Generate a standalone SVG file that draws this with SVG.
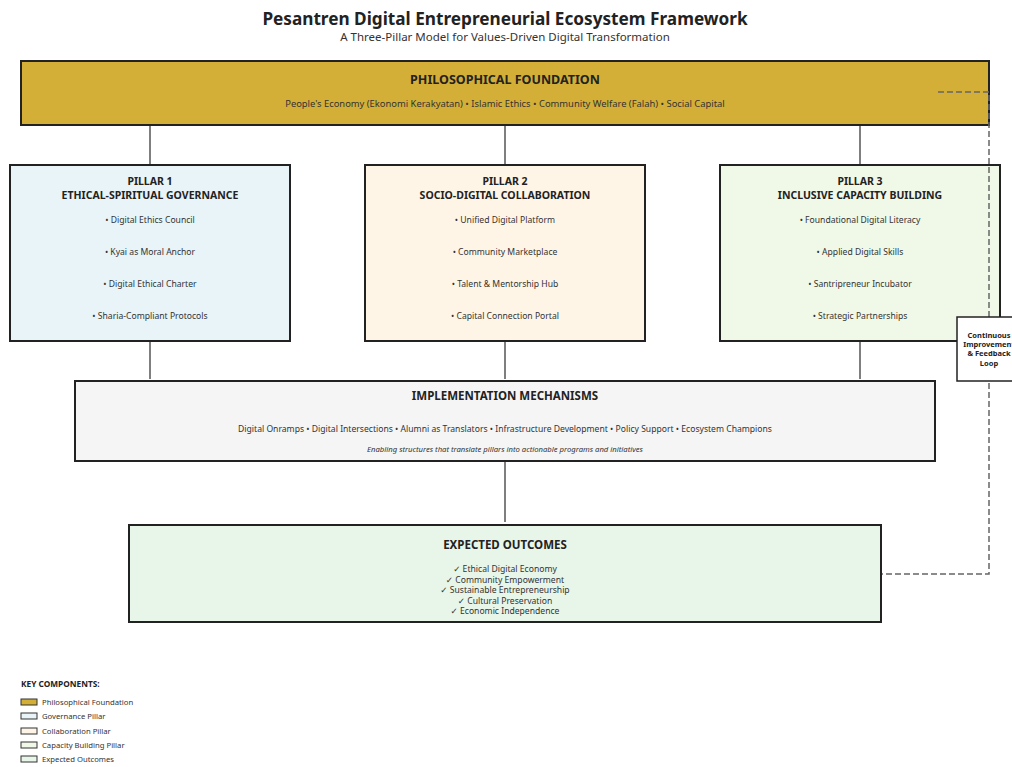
<svg xmlns="http://www.w3.org/2000/svg" width="1012" height="767" viewBox="0 0 1012 767">
<style>
text{font-family:"Noto Sans","Open Sans","DejaVu Sans",sans-serif;fill:#222;text-anchor:middle}
.box{stroke:#222;stroke-width:2}
.t{font-weight:bold}
.h1{font-size:17.2px;font-weight:bold}
.h2{font-size:11.5px;fill:#333}
.ft{font-size:12.5px;font-weight:bold}
.bt{font-size:11.5px;font-weight:bold}
.pt{font-size:10.5px;font-weight:bold}
.it{font-size:8.6px;fill:#333}
.sub{font-size:9.4px;fill:#333}
.sm{font-size:7.7px;fill:#333;font-style:italic}
.conn{stroke:#555;stroke-width:1.5;fill:none}
.dash{stroke:#666;stroke-width:1.5;fill:none;stroke-dasharray:6,3}
.lg{font-size:7.7px;text-anchor:start;fill:#333}
.lh{font-size:8.3px;font-weight:bold;text-anchor:start}
.fb{font-size:7.5px;font-weight:bold}
.sw{stroke:#333;stroke-width:1}
</style>
<rect width="1012" height="767" fill="#fff"/>
<g id="title">
<text x="505" y="25" class="h1">Pesantren Digital Entrepreneurial Ecosystem Framework</text>
<text x="505" y="41" class="h2">A Three-Pillar Model for Values-Driven Digital Transformation</text>
</g>
<g id="connectors">
<line class="conn" x1="150" y1="125" x2="150" y2="165"/>
<line class="conn" x1="505" y1="125" x2="505" y2="165"/>
<line class="conn" x1="860" y1="125" x2="860" y2="165"/>
<line class="conn" x1="150" y1="341" x2="150" y2="379"/>
<line class="conn" x1="505" y1="341" x2="505" y2="379"/>
<line class="conn" x1="860" y1="341" x2="860" y2="379"/>
<line class="conn" x1="505" y1="461" x2="505" y2="522" stroke-width="2.5"/>
</g>
<g id="foundation">
<rect class="box" x="21" y="61" width="968" height="64" fill="#D4AF37"/>
<text x="505" y="84" class="ft">PHILOSOPHICAL FOUNDATION</text>
<text x="505" y="107" class="sub">People's Economy (Ekonomi Kerakyatan) • Islamic Ethics • Community Welfare (Falah) • Social Capital</text>
</g>
<g id="pillar1">
<rect class="box" x="10" y="165" width="280" height="176" fill="#E8F4F8"/>
<text x="150" y="185" class="pt">PILLAR 1</text>
<text x="150" y="199" class="pt">ETHICAL-SPIRITUAL GOVERNANCE</text>
<text x="150" y="223" class="it">• Digital Ethics Council</text>
<text x="150" y="255" class="it">• Kyai as Moral Anchor</text>
<text x="150" y="287" class="it">• Digital Ethical Charter</text>
<text x="150" y="319" class="it">• Sharia-Compliant Protocols</text>
</g>
<g id="pillar2">
<rect class="box" x="365" y="165" width="280" height="176" fill="#FFF5E6"/>
<text x="505" y="185" class="pt">PILLAR 2</text>
<text x="505" y="199" class="pt">SOCIO-DIGITAL COLLABORATION</text>
<text x="505" y="223" class="it">• Unified Digital Platform</text>
<text x="505" y="255" class="it">• Community Marketplace</text>
<text x="505" y="287" class="it">• Talent &amp; Mentorship Hub</text>
<text x="505" y="319" class="it">• Capital Connection Portal</text>
</g>
<g id="pillar3">
<rect class="box" x="720" y="165" width="280" height="176" fill="#F0F8E8"/>
<text x="860" y="185" class="pt">PILLAR 3</text>
<text x="860" y="199" class="pt">INCLUSIVE CAPACITY BUILDING</text>
<text x="860" y="223" class="it">• Foundational Digital Literacy</text>
<text x="860" y="255" class="it">• Applied Digital Skills</text>
<text x="860" y="287" class="it">• Santripreneur Incubator</text>
<text x="860" y="319" class="it">• Strategic Partnerships</text>
</g>
<g id="feedback-line">
<path class="dash" d="M938,92 H989 V574 H882"/>
</g>
<g id="implementation">
<rect class="box" x="75" y="381" width="860" height="80" fill="#F5F5F5"/>
<text x="505" y="400" class="bt">IMPLEMENTATION MECHANISMS</text>
<text x="505" y="432" class="it">Digital Onramps • Digital Intersections • Alumni as Translators • Infrastructure Development • Policy Support • Ecosystem Champions</text>
<text x="505" y="452" class="sm">Enabling structures that translate pillars into actionable programs and initiatives</text>
</g>
<g id="outcomes">
<rect class="box" x="129" y="525" width="752" height="97" fill="#E8F5E9"/>
<text x="505" y="549" class="bt">EXPECTED OUTCOMES</text>
<text x="505" y="572" class="it">✓ Ethical Digital Economy</text>
<text x="505" y="583" class="it">✓ Community Empowerment</text>
<text x="505" y="593" class="it">✓ Sustainable Entrepreneurship</text>
<text x="505" y="604" class="it">✓ Cultural Preservation</text>
<text x="505" y="614" class="it">✓ Economic Independence</text>
</g>
<g id="feedback">
<rect x="957" y="317" width="64" height="64" fill="#fff" stroke="#222" stroke-width="1.5"/>
<text x="989" y="338" class="fb">Continuous</text>
<text x="989" y="347" class="fb">Improvement</text>
<text x="989" y="356" class="fb">&amp; Feedback</text>
<text x="989" y="366" class="fb">Loop</text>
</g>
<g id="legend">
<text x="21" y="687" class="lh">KEY COMPONENTS:</text>
<rect class="sw" x="21" y="699" width="16" height="6" fill="#D4AF37"/>
<text x="42" y="705" class="lg">Philosophical Foundation</text>
<rect class="sw" x="21" y="713" width="16" height="6" fill="#E8F4F8"/>
<text x="42" y="719" class="lg">Governance Pillar</text>
<rect class="sw" x="21" y="728" width="16" height="6" fill="#FFF5E6"/>
<text x="42" y="734" class="lg">Collaboration Pillar</text>
<rect class="sw" x="21" y="742" width="16" height="6" fill="#F0F8E8"/>
<text x="42" y="748" class="lg">Capacity Building Pillar</text>
<rect class="sw" x="21" y="756" width="16" height="6" fill="#E8F5E9"/>
<text x="42" y="762" class="lg">Expected Outcomes</text>
</g>
</svg>
